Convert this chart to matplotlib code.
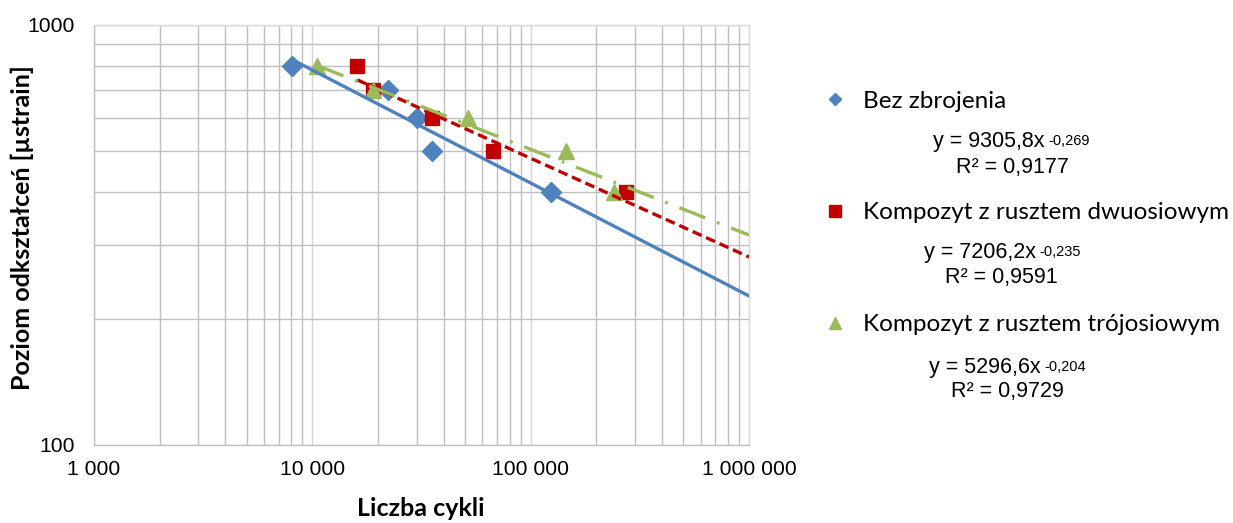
import matplotlib
matplotlib.use("Agg")
import matplotlib.pyplot as plt
import numpy as np
from matplotlib.ticker import FixedLocator, NullFormatter, LogLocator

# ---------------- data ----------------
series_names = ["Bez zbrojenia", "Kompozyt z rusztem dwuosiowym", "Kompozyt z rusztem trójosiowym"]
bez_x = [8100, 22300, 30000, 35200, 123700]
bez_y = [800, 700, 600, 500, 400]
dwu_x = [16070, 19060, 35500, 66900, 273000]
dwu_y = [800, 700, 600, 500, 400]
troj_x = [10550, 19060, 51400, 145000, 240500]
troj_y = [800, 700, 600, 500, 400]

# power trendlines y = a * x^b
trend_a = [9305.8, 7206.2, 5296.6]
trend_b = [-0.269, -0.235, -0.204]
trend_r2 = ["0,9177", "0,9591", "0,9729"]
eq_main = ["y = 9305,8x", "y = 7206,2x", "y = 5296,6x"]
eq_exp = ["-0,269", "-0,235", "-0,204"]

x_ticks = [1000, 10000, 100000, 1000000]
x_ticklabels = ["1 000", "10 000", "100 000", "1 000 000"]
y_ticks = [100, 1000]
y_ticklabels = ["100", "1000"]

colors = ["#4F81BD", "#C00000", "#9BBB59"]
markers = ["D", "s", "^"]

plt.rcParams['lines.scale_dashes'] = False

W, H = 1233, 523
fig = plt.figure(figsize=(W / 100, H / 100), dpi=100)
ax = fig.add_axes([94 / W, 1 - 445 / H, (749 - 94) / W, (445 - 25) / H])

ax.set_xscale("log")
ax.set_yscale("log")
ax.set_xlim(1000, 1000000)
ax.set_ylim(100, 1000)

# grid
ax.xaxis.set_minor_locator(LogLocator(base=10, subs=np.arange(2, 10)))
ax.yaxis.set_minor_locator(LogLocator(base=10, subs=np.arange(2, 10)))
ax.grid(True, which="minor", color="#BFBFBF", lw=1.0)
ax.grid(True, which="major", color="#D4D4D4", lw=1.0)
ax.set_axisbelow(True)
for s in ["top", "right"]:
    ax.spines[s].set_color("#D9D9D9")
    ax.spines[s].set_linewidth(1.0)
for s in ["left", "bottom"]:
    ax.spines[s].set_color("#BFBFBF")
    ax.spines[s].set_linewidth(1.0)

ax.xaxis.set_major_locator(FixedLocator(x_ticks))
ax.set_xticklabels(x_ticklabels)
ax.yaxis.set_major_locator(FixedLocator(y_ticks))
ax.set_yticklabels(y_ticklabels)
ax.xaxis.set_minor_formatter(NullFormatter())
ax.yaxis.set_minor_formatter(NullFormatter())
ax.tick_params(which="both", length=0)
ax.tick_params(axis="x", pad=11, labelsize=15.2)
ax.tick_params(axis="y", pad=14, labelsize=15.2)
for lab in ax.get_xticklabels() + ax.get_yticklabels():
    lab.set_fontfamily("Liberation Sans")
    lab.set_color("#000000")

# scatter points
xs = [bez_x, dwu_x, troj_x]
ys = [bez_y, dwu_y, troj_y]
msizes = [10, 10, 11]
for i in range(3):
    ax.plot(xs[i], ys[i], linestyle="none", marker=markers[i], color=colors[i],
            ms=msizes[i], mec=colors[i], zorder=3, clip_on=False)

# trendlines
dash_styles = [
    dict(linestyle="-"),
    dict(linestyle=(0, (7, 3.6))),
    dict(linestyle=(0, (20, 9, 2, 9))),
]
for i in range(3):
    xx = np.logspace(np.log10(min(xs[i])), 6, 200)
    yy = trend_a[i] * xx ** trend_b[i]
    ax.plot(xx, yy, color=colors[i], lw=2.4, zorder=4, **dash_styles[i])

xl = ax.set_xlabel("Liczba cykli", fontsize=18, fontweight="bold", family="Lato")
xl.set_va("center")
ax.xaxis.set_label_coords((421 - 94) / (749 - 94), -(508 - 445) / (445 - 25))
yl = ax.set_ylabel("Poziom odkształceń [µstrain]", fontsize=18, fontweight="bold", family="Lato")
yl.set_va("center")
ax.yaxis.set_label_coords(-(94 - 22) / (749 - 94), (445 - 228) / (445 - 25))

# legend
leg_marker_sizes = [6, 9, 9]
leg_handles = []
for i in range(3):
    lh = plt.Line2D([], [], linestyle="none", marker=markers[i], color=colors[i], ms=leg_marker_sizes[i])
    leg_handles.append(lh)
leg = fig.legend(leg_handles, series_names, loc="upper left",
                 bbox_to_anchor=(813 / W, 1 - 81 / H), frameon=False,
                 prop=dict(family="Lato", size=17.5), labelspacing=3.73,
                 handlelength=1.0, handletextpad=0.65, borderaxespad=0)

# equations
eq_pos = [(933, 142, 956, 167), (924, 253, 945, 277), (929, 368, 951, 392)]
for i in range(3):
    ex, ey, rx, ry = eq_pos[i]
    t = fig.text(ex / W, 1 - ey / H, eq_main[i], ha="left", va="center",
                 fontsize=15.5, family="Liberation Sans")
    ax.annotate(eq_exp[i], xy=(1.0, 0.86), xycoords=t, xytext=(2.5, 0),
                textcoords="offset points", ha="left", va="top",
                fontsize=10.5, family="Liberation Sans", annotation_clip=False)
    fig.text(rx / W, 1 - ry / H, "R² = " + trend_r2[i], ha="left", va="center",
             fontsize=15.5, family="Liberation Sans")

fig.savefig("out.png", dpi=100)
